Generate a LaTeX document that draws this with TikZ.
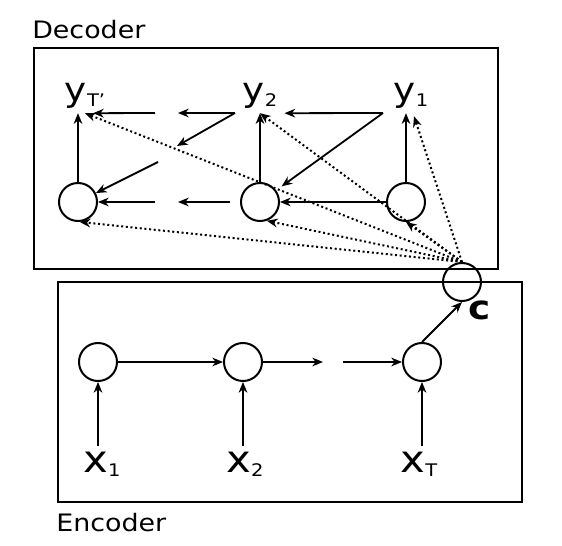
\documentclass[tikz,border=0pt]{standalone}
\usepackage{fontspec}
\setmainfont{DejaVu Sans}[FakeStretch=1.12]
\usetikzlibrary{calc,arrows.meta}

% small lowered index after a letter
\newcommand{\lo}[1]{\raisebox{-3.5pt}{\fontsize{13pt}{13pt}\selectfont #1}}

\begin{document}
\begin{tikzpicture}[x=0.75pt, y=-0.75pt,
        cell/.style={draw, circle, line width=1.5pt, minimum size=28.5pt, inner sep=0pt},
        box/.style={draw, line width=1.5pt},
        arr/.style={line width=1.35pt, -{Stealth[length=8pt, width=6.5pt, inset=2.5pt]}},
        bold arr/.style={arr, line width=2pt},
        dots/.style={line width=1.5pt, dotted, -{Stealth[length=8pt, width=6.5pt, inset=2.5pt]}},
        ylab/.style={inner sep=3pt, anchor=base, font=\fontsize{25pt}{25pt}\selectfont},
        xlab/.style={inner sep=4pt, anchor=base, font=\fontsize{28pt}{28pt}\selectfont},
        title/.style={inner sep=0pt, anchor=base west, font=\fontsize{18pt}{18pt}\selectfont}]

            \useasboundingbox (0,0) rectangle (562,546);

            % frames
            \draw [box] (34,48) rectangle (498,269);
            \draw [box] (58,282) rectangle (522,502);
            \node (DEC) at (32,38) [title] {Decoder};
            \node (ENC) at (56,531) [title] {Encoder};

            % decoder
            \node (D1) at (78,202) [cell] {};
            \node (D2) at ($(D1) + (182,0)$) [cell] {};
            \node (D3) at ($(D2) + (146,0)$) [cell] {};

            \node (YT) at ($(D1) + (7,-100)$) [ylab] {y\lo{T'}};
            \node (Y2) at ($(D2) + (0,-100)$) [ylab] {y\lo{2}};
            \node (Y1) at ($(D3) + (5,-100)$) [ylab] {y\lo{1}};

            \foreach \d/\y in {D1/YT, D2/Y2, D3/Y1}
                {
                    \draw [arr] (\d) -- (\d |- \y.south);
                }

            \coordinate (O1) at ($(D3) + (-23,-89)$);
            \coordinate (O2) at ($(D2) + (-25,-89)$);
            \coordinate (G1) at ($(O2) + (-57,0)$);
            \coordinate (G2) at ($(O2) + (-58,33)$);
            \coordinate (G3) at ($(O2) + (-80,0)$);
            \coordinate (G4) at ($(O2) + (-77,49)$);
            \coordinate (G5) at ($(D2) + (-30,0)$);
            \coordinate (G6) at ($(D2) + (-82,0)$);
            \coordinate (G7) at ($(D2) + (-105,0)$);

            \draw [arr] (O1) -- ($(Y2.south east) + (3,0)$);
            \draw [arr, shorten >=5pt] (O1) -- (D2);
            \draw [arr] (O2) -- (G1);
            \draw [arr] (O2) -- (G2);
            \draw [arr] (G3) -- ($(YT.south) + (8,0)$);
            \draw [arr] (G4) -- (D1);

            \draw [bold arr] (D3) -- (D2);
            \draw [arr] (G5) -- (G6);
            \draw [arr] (G7) -- (D1);

            % context
            \node (C) at (462,282) [cell] {};
            \node (CL) at ($(C) + (18,37)$) [inner sep=0pt, anchor=base, font=\fontsize{25pt}{25pt}\bfseries] {c};

            \foreach \t in {YT.south, Y2.south, D1.-85, D2.-70, D3.south}
                {
                    \draw [dots] (C.north) -- (\t);
                }
            \draw [dots] (C.north) -- ($(Y1.south) + (3,3)$);

            % encoder
            \node (E1) at (98,362) [cell] {};
            \node (E2) at ($(E1) + (145,0)$) [cell] {};
            \node (E3) at ($(E2) + (179,0)$) [cell] {};

            \node (X1) at ($(E1) + (4,110)$) [xlab] {x\lo{1}};
            \node (X2) at ($(E2) + (2,110)$) [xlab] {x\lo{2}};
            \node (XT) at ($(E3) + (-3,110)$) [xlab] {x\lo{T}};

            \foreach \e/\x in {E1/X1, E2/X2, E3/XT}
                {
                    \draw [arr] (\e |- \x.north) -- (\e);
                }

            \coordinate (H1) at ($(E2) + (80,0)$);
            \coordinate (H2) at ($(E3) + (-79,0)$);

            \draw [bold arr] (E1) -- (E2);
            \draw [arr] (E2) -- (H1);
            \draw [arr] (H2) -- (E3);
            \draw [arr] (E3.north) -- (C.south);

\end{tikzpicture}
\end{document}
